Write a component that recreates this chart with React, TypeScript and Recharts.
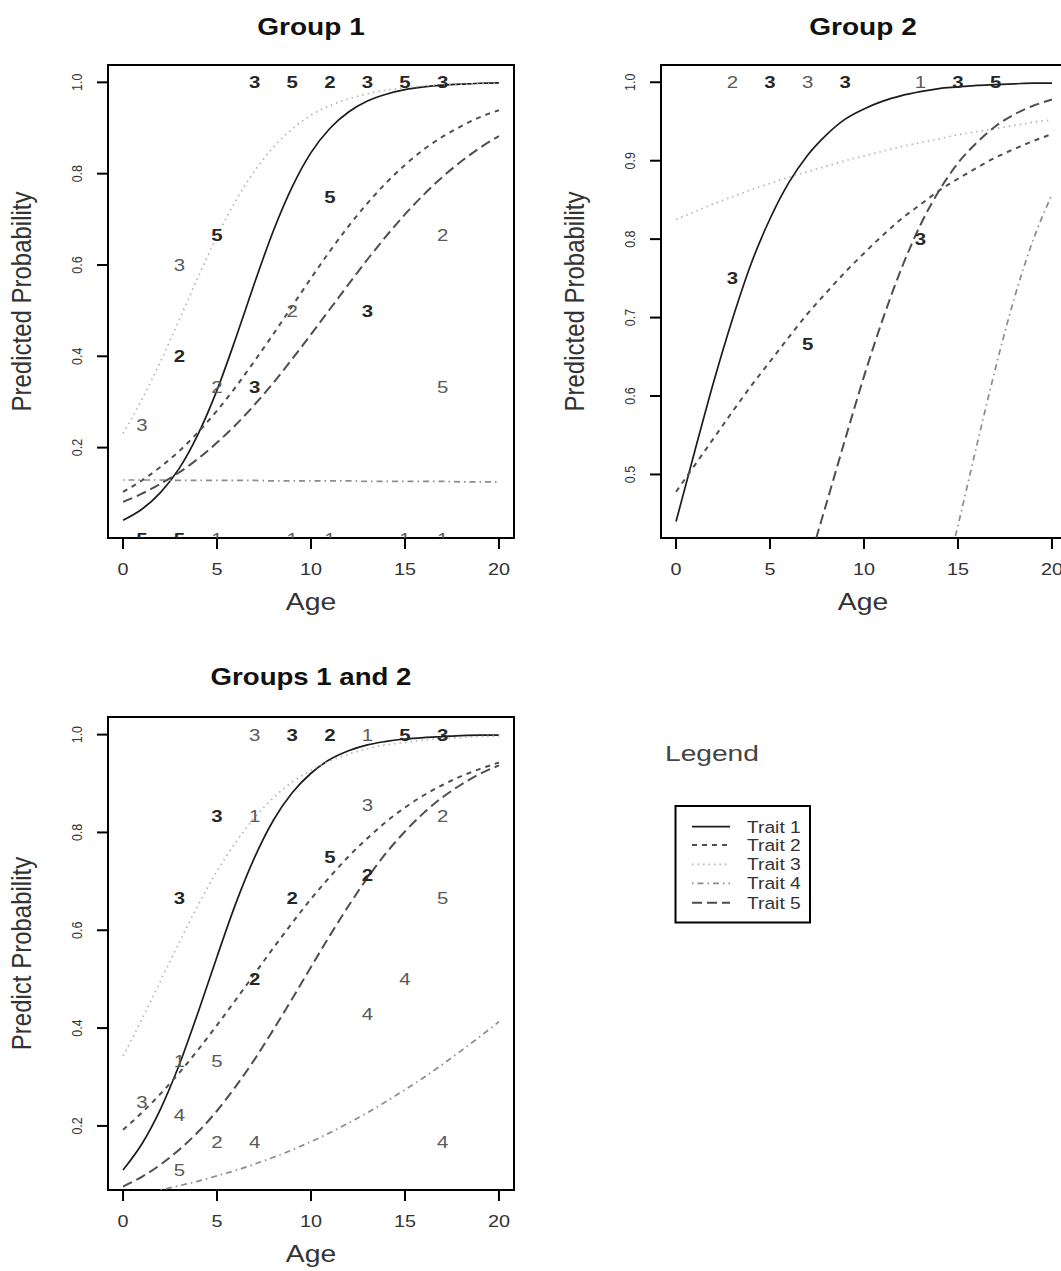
import React from 'react';
import { ComposedChart, Line, Scatter, XAxis, YAxis, ReferenceArea } from 'recharts';

// ---------- data ----------
const ages = [0, 1, 2, 3, 4, 5, 6, 7, 8, 9, 10, 11, 12, 13, 14, 15, 16, 17, 18, 19, 20];
const xTicks = [0, 5, 10, 15, 20];
const traitNames = ['Trait 1', 'Trait 2', 'Trait 3', 'Trait 4', 'Trait 5'];

// Group 1
const g1Trait1 = [0.041, 0.065, 0.102, 0.155, 0.230, 0.326, 0.440, 0.561, 0.675, 0.771, 0.846, 0.899, 0.935, 0.959, 0.974, 0.984, 0.990, 0.994, 0.996, 0.998, 0.999];
const g1Trait2 = [0.103, 0.128, 0.158, 0.193, 0.234, 0.281, 0.333, 0.390, 0.449, 0.510, 0.571, 0.630, 0.685, 0.735, 0.780, 0.819, 0.853, 0.881, 0.904, 0.924, 0.939];
const g1Trait3 = [0.231, 0.305, 0.389, 0.481, 0.574, 0.663, 0.741, 0.806, 0.858, 0.898, 0.928, 0.949, 0.964, 0.975, 0.983, 0.988, 0.992, 0.994, 0.996, 0.997, 0.998];
const g1Trait4 = [0.129, 0.129, 0.129, 0.128, 0.128, 0.128, 0.128, 0.128, 0.127, 0.127, 0.127, 0.127, 0.127, 0.126, 0.126, 0.126, 0.126, 0.126, 0.125, 0.125, 0.125];
const g1Trait5 = [0.081, 0.099, 0.121, 0.146, 0.176, 0.211, 0.250, 0.294, 0.342, 0.394, 0.448, 0.503, 0.558, 0.612, 0.663, 0.711, 0.754, 0.793, 0.827, 0.857, 0.882];
const g1YTicks = [0.2, 0.4, 0.6, 0.8, 1.0];
const g1YDomain = [0.002, 1.038];
const g1Marks = [
  { age: 1, p: 0.25, label: '3', n: 1 }, { age: 3, p: 0.6, label: '3', n: 1 },
  { age: 3, p: 0.4, label: '2', n: 2 }, { age: 5, p: 0.667, label: '5', n: 2 },
  { age: 5, p: 0.333, label: '2', n: 1 }, { age: 7, p: 0.333, label: '3', n: 2 },
  { age: 9, p: 0.5, label: '2', n: 1 }, { age: 11, p: 0.75, label: '5', n: 2 },
  { age: 13, p: 0.5, label: '3', n: 2 }, { age: 17, p: 0.667, label: '2', n: 1 },
  { age: 17, p: 0.333, label: '5', n: 1 },
  { age: 7, p: 1, label: '3', n: 2 }, { age: 9, p: 1, label: '5', n: 2 },
  { age: 11, p: 1, label: '2', n: 2 }, { age: 13, p: 1, label: '3', n: 2 },
  { age: 15, p: 1, label: '5', n: 2 }, { age: 17, p: 1, label: '3', n: 2 },
  { age: 1, p: 0, label: '5', n: 2 }, { age: 3, p: 0, label: '5', n: 2 },
  { age: 5, p: 0, label: '1', n: 1 }, { age: 9, p: 0, label: '1', n: 1 },
  { age: 11, p: 0, label: '1', n: 1 }, { age: 15, p: 0, label: '1', n: 1 },
  { age: 17, p: 0, label: '1', n: 1 },
];

// Group 2
const g2Trait1 = [0.440, 0.530, 0.618, 0.698, 0.769, 0.826, 0.872, 0.907, 0.933, 0.953, 0.966, 0.976, 0.983, 0.988, 0.992, 0.994, 0.996, 0.997, 0.998, 0.999, 0.999];
const g2Trait2 = [0.478, 0.512, 0.546, 0.580, 0.613, 0.644, 0.675, 0.705, 0.732, 0.758, 0.782, 0.805, 0.826, 0.844, 0.862, 0.877, 0.891, 0.904, 0.915, 0.925, 0.934];
const g2Trait3 = [0.825, 0.835, 0.845, 0.854, 0.863, 0.871, 0.879, 0.886, 0.893, 0.900, 0.906, 0.912, 0.918, 0.923, 0.928, 0.933, 0.937, 0.941, 0.945, 0.949, 0.952];
const g2Trait4 = [null, null, null, null, null, null, null, null, null, null, null, null, null, null, 0.338, 0.435, 0.537, 0.636, 0.725, 0.799, 0.857];
const g2Trait5 = [null, null, null, null, null, null, null, 0.382, 0.463, 0.545, 0.625, 0.698, 0.763, 0.818, 0.862, 0.897, 0.923, 0.944, 0.959, 0.970, 0.978];
const g2YTicks = [0.5, 0.6, 0.7, 0.8, 0.9, 1.0];
const g2YDomain = [0.419, 1.022];
const g2Marks = [
  { age: 3, p: 1, label: '2', n: 1 }, { age: 5, p: 1, label: '3', n: 2 },
  { age: 7, p: 1, label: '3', n: 1 }, { age: 9, p: 1, label: '3', n: 2 },
  { age: 13, p: 1, label: '1', n: 1 }, { age: 15, p: 1, label: '3', n: 2 },
  { age: 17, p: 1, label: '5', n: 2 },
  { age: 3, p: 0.75, label: '3', n: 2 }, { age: 7, p: 0.667, label: '5', n: 2 },
  { age: 13, p: 0.8, label: '3', n: 2 },
];

// Groups 1 and 2
const g3Trait1 = [0.110, 0.163, 0.235, 0.326, 0.433, 0.546, 0.655, 0.749, 0.825, 0.881, 0.921, 0.949, 0.967, 0.979, 0.986, 0.991, 0.994, 0.996, 0.998, 0.999, 0.999];
const g3Trait2 = [0.192, 0.227, 0.266, 0.309, 0.356, 0.406, 0.458, 0.511, 0.564, 0.615, 0.664, 0.709, 0.751, 0.788, 0.822, 0.851, 0.876, 0.897, 0.915, 0.930, 0.943];
const g3Trait3 = [0.343, 0.418, 0.497, 0.576, 0.652, 0.721, 0.780, 0.830, 0.871, 0.903, 0.927, 0.946, 0.960, 0.971, 0.979, 0.984, 0.989, 0.992, 0.994, 0.996, 0.997];
const g3Trait4 = [null, null, 0.069, 0.078, 0.087, 0.098, 0.109, 0.122, 0.136, 0.151, 0.168, 0.186, 0.206, 0.227, 0.250, 0.274, 0.299, 0.326, 0.354, 0.383, 0.413];
const g3Trait5 = [0.076, 0.096, 0.121, 0.152, 0.188, 0.231, 0.281, 0.336, 0.397, 0.460, 0.525, 0.589, 0.650, 0.707, 0.758, 0.802, 0.840, 0.872, 0.898, 0.920, 0.937];
const g3YTicks = [0.2, 0.4, 0.6, 0.8, 1.0];
const g3YDomain = [0.069, 1.036];
const g3Marks = [
  { age: 7, p: 1, label: '3', n: 1 }, { age: 9, p: 1, label: '3', n: 2 },
  { age: 11, p: 1, label: '2', n: 2 }, { age: 13, p: 1, label: '1', n: 1 },
  { age: 15, p: 1, label: '5', n: 2 }, { age: 17, p: 1, label: '3', n: 2 },
  { age: 5, p: 0.833, label: '3', n: 2 }, { age: 7, p: 0.833, label: '1', n: 1 },
  { age: 13, p: 0.857, label: '3', n: 1 }, { age: 17, p: 0.833, label: '2', n: 1 },
  { age: 11, p: 0.75, label: '5', n: 2 }, { age: 13, p: 0.714, label: '2', n: 2 },
  { age: 3, p: 0.667, label: '3', n: 2 }, { age: 9, p: 0.667, label: '2', n: 2 },
  { age: 17, p: 0.667, label: '5', n: 1 }, { age: 7, p: 0.5, label: '2', n: 2 },
  { age: 15, p: 0.5, label: '4', n: 1 }, { age: 13, p: 0.429, label: '4', n: 1 },
  { age: 3, p: 0.333, label: '1', n: 1 }, { age: 5, p: 0.333, label: '5', n: 1 },
  { age: 1, p: 0.25, label: '3', n: 1 }, { age: 3, p: 0.222, label: '4', n: 1 },
  { age: 5, p: 0.167, label: '2', n: 1 }, { age: 7, p: 0.167, label: '4', n: 1 },
  { age: 17, p: 0.167, label: '4', n: 1 }, { age: 3, p: 0.111, label: '5', n: 1 },
];

// ---------- styling ----------
const FONT = '"Liberation Sans", Arial, Helvetica, sans-serif';
const SX = 1.2;
const TRAIT_STYLES = [
  { stroke: '#1c1c1c', dash: undefined as string | undefined, width: 1.7 },
  { stroke: '#4e4e4e', dash: '5 5', width: 2 },
  { stroke: '#b4b4b4', dash: '1.5 4', width: 1.7 },
  { stroke: '#8c8c8c', dash: '1.5 4 6 4', width: 1.7 },
  { stroke: '#4e4e4e', dash: '10 5', width: 2 },
];

const buildTable = (series: (number | null)[][]) =>
  ages.map((age, i) => {
    const row: Record<string, number | null> = { age };
    series.forEach((s, k) => {
      row[`t${k + 1}`] = s[i];
    });
    return row;
  });

const g1Table = buildTable([g1Trait1, g1Trait2, g1Trait3, g1Trait4, g1Trait5]);
const g2Table = buildTable([g2Trait1, g2Trait2, g2Trait3, g2Trait4, g2Trait5]);
const g3Table = buildTable([g3Trait1, g3Trait2, g3Trait3, g3Trait4, g3Trait5]);

const XTick = (props: any) => {
  const { x, y, payload } = props;
  return (
    <text
      transform={`translate(${x},${y + 26}) scale(${SX},1)`}
      textAnchor="middle"
      fontSize={16.5}
      fontFamily={FONT}
      fill="#333"
    >
      {payload.value}
    </text>
  );
};

const YTick = (props: any) => {
  const { x, y, payload } = props;
  return (
    <text
      transform={`translate(${x - 15},${y}) scale(${SX},1) rotate(-90)`}
      textAnchor="middle"
      fontSize={12.5}
      fontFamily={FONT}
      fill="#333"
    >
      {Number(payload.value).toFixed(1)}
    </text>
  );
};

const Digit = (props: any) => {
  const { cx, cy, payload } = props;
  if (cx == null || cy == null) return <g />;
  const heavy = payload.n > 1;
  return (
    <text
      transform={`translate(${cx},${cy}) scale(${SX},1)`}
      textAnchor="middle"
      dy="0.36em"
      fontSize={17}
      fontFamily={FONT}
      fontWeight={heavy ? 700 : 400}
      fill={heavy ? '#262626' : '#5a5a5a'}
    >
      {payload.label}
    </text>
  );
};

type PanelProps = {
  table: any[];
  marks: any[];
  yDomain: number[];
  yTicks: number[];
  left: number;
  top: number;
};

const Panel = ({ table, marks, yDomain, yTicks, left, top }: PanelProps) => (
  <div style={{ position: 'absolute', left, top }}>
    <ComposedChart
      width={560}
      height={600}
      data={table}
      margin={{ top: 65, right: 46, bottom: 61, left: 107 }}
    >
      <XAxis
        dataKey="age"
        type="number"
        domain={[-0.8, 20.8]}
        ticks={xTicks}
        interval={0}
        height={1}
        axisLine={false}
        tickLine={{ stroke: '#000', strokeWidth: 2 }}
        tickSize={11}
        tickMargin={0}
        tick={XTick}
        allowDataOverflow
      />
      <YAxis
        type="number"
        domain={yDomain}
        ticks={yTicks}
        interval={0}
        width={1}
        axisLine={false}
        tickLine={{ stroke: '#000', strokeWidth: 2 }}
        tickSize={11}
        tickMargin={0}
        tick={YTick}
        allowDataOverflow
      />
      {TRAIT_STYLES.map((s, k) => (
        <Line
          key={k}
          dataKey={`t${k + 1}`}
          name={traitNames[k]}
          type="monotone"
          stroke={s.stroke}
          strokeWidth={s.width}
          strokeDasharray={s.dash}
          dot={false}
          activeDot={false}
          connectNulls={false}
          isAnimationActive={false}
        />
      ))}
      <Scatter data={marks} dataKey="p" shape={Digit} isAnimationActive={false} />
      <ReferenceArea
        x1={-0.8}
        x2={20.8}
        y1={yDomain[0]}
        y2={yDomain[1]}
        fill="none"
        fillOpacity={0}
        stroke="#000"
        strokeWidth={2}
        ifOverflow="visible"
      />
    </ComposedChart>
  </div>
);

const T = ({ x, y, size, weight = 400, color = '#333', anchor = 'middle', rot = false, sx = SX, children }: any) => (
  <text
    transform={`translate(${x},${y}) scale(${sx},1)${rot ? ' rotate(-90)' : ''}`}
    textAnchor={anchor}
    fontSize={size}
    fontWeight={weight}
    fontFamily={FONT}
    fill={color}
  >
    {children}
  </text>
);

const legendYs = [826.7, 845, 864.3, 883.3, 902.7];

export default function App() {
  return (
    <div
      style={{
        position: 'absolute',
        left: 0,
        top: 0,
        width: 1061,
        height: 1271,
        overflow: 'hidden',
        background: '#fff',
      }}
    >
      <Panel table={g1Table} marks={g1Marks} yDomain={g1YDomain} yTicks={g1YTicks} left={0} top={0} />
      <Panel table={g2Table} marks={g2Marks} yDomain={g2YDomain} yTicks={g2YTicks} left={552.5} top={0} />
      <Panel table={g3Table} marks={g3Marks} yDomain={g3YDomain} yTicks={g3YTicks} left={0} top={652} />
      <svg
        width={1061}
        height={1271}
        style={{ position: 'absolute', left: 0, top: 0, pointerEvents: 'none' }}
      >
        <T x={311} y={35} size={23} weight={700} color="#111" sx={1.22}>Group 1</T>
        <T x={863} y={35} size={23} weight={700} color="#111" sx={1.22}>Group 2</T>
        <T x={311} y={685} size={23} weight={700} color="#111" sx={1.2}>Groups 1 and 2</T>

        <T x={311} y={610} size={24} sx={1.18}>Age</T>
        <T x={863} y={610} size={24} sx={1.18}>Age</T>
        <T x={311} y={1262} size={24} sx={1.18}>Age</T>

        <T x={31} y={301.5} size={24} rot sx={1.18}>Predicted Probability</T>
        <T x={584} y={301.5} size={24} rot sx={1.18}>Predicted Probability</T>
        <T x={31} y={953.5} size={24} rot sx={1.18}>Predict Probability</T>

        <T x={665} y={760.5} size={22} anchor="start" color="#444" sx={1.28}>Legend</T>
        <rect x={675.5} y={806} width={134.5} height={116.5} fill="none" stroke="#000" strokeWidth={2} />
        {TRAIT_STYLES.map((s, k) => (
          <g key={k}>
            <line
              x1={692}
              x2={730}
              y1={legendYs[k]}
              y2={legendYs[k]}
              stroke={s.stroke}
              strokeWidth={s.width}
              strokeDasharray={s.dash}
            />
            <T x={747} y={legendYs[k] + 6} size={16.3} anchor="start" sx={1.18}>
              {traitNames[k]}
            </T>
          </g>
        ))}
      </svg>
    </div>
  );
}
